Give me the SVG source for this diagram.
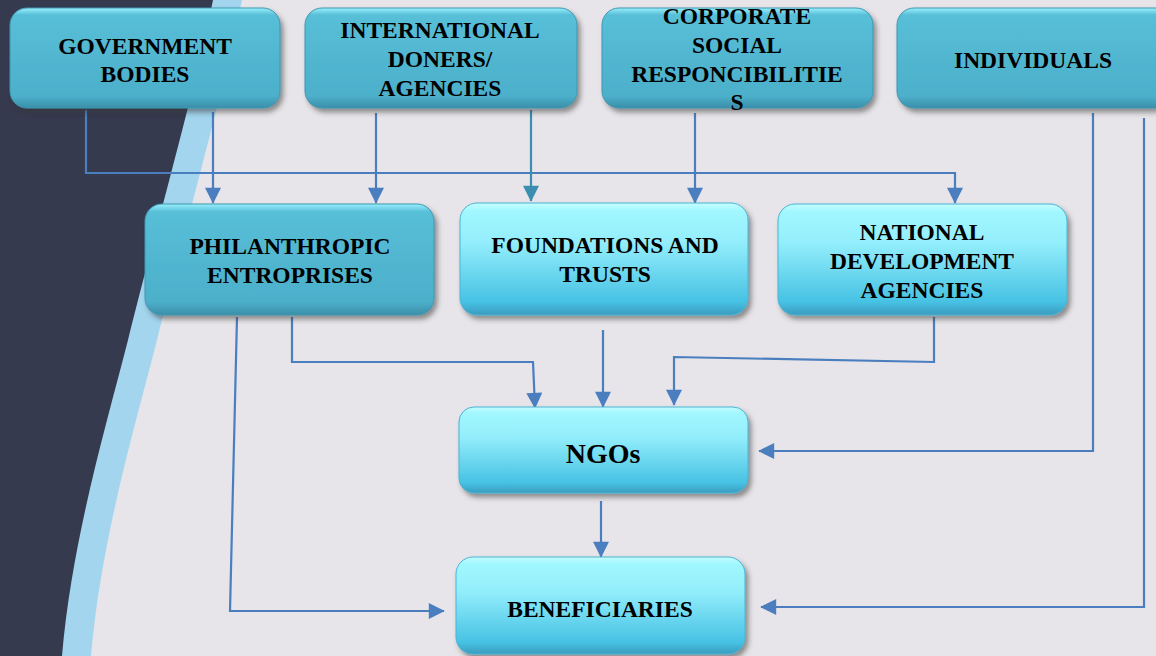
<svg xmlns="http://www.w3.org/2000/svg" width="1156" height="656" viewBox="0 0 1156 656">
<defs>
<linearGradient id="gDark" x1="0" y1="0" x2="0" y2="1">
<stop offset="0" stop-color="#9AEFFC"/>
<stop offset="0.07" stop-color="#58BFD8"/>
<stop offset="0.5" stop-color="#51B6D0"/>
<stop offset="0.88" stop-color="#4DB0CB"/>
<stop offset="1" stop-color="#3A8EA8"/>
</linearGradient>
<linearGradient id="gLight" x1="0" y1="0" x2="0" y2="1">
<stop offset="0" stop-color="#C4FDFF"/>
<stop offset="0.07" stop-color="#A2F7FF"/>
<stop offset="0.35" stop-color="#93EEFB"/>
<stop offset="0.88" stop-color="#47C2E4"/>
<stop offset="1" stop-color="#3B9CBE"/>
</linearGradient>
<filter id="shadow" x="-10%" y="-10%" width="125%" height="135%">
<feDropShadow dx="3" dy="4" stdDeviation="2.5" flood-color="#333" flood-opacity="0.5"/>
</filter>
<marker id="arr" viewBox="0 0 10 10" refX="9.5" refY="5" markerUnits="userSpaceOnUse" markerWidth="17" markerHeight="16" orient="auto">
<path d="M0,0 L10,5 L0,10 z" fill="#4A7EBF"/>
</marker>
<marker id="arrT" viewBox="0 0 10 10" refX="9.5" refY="5" markerUnits="userSpaceOnUse" markerWidth="17" markerHeight="16" orient="auto">
<path d="M0,0 L10,5 L0,10 z" fill="#3B8EB0"/>
</marker>
</defs>
<style>
.dark{fill:url(#gDark);stroke:#3F97B0;stroke-width:1;filter:url(#shadow)}
.light{fill:url(#gLight);stroke:#4AB3D3;stroke-width:1;filter:url(#shadow)}
text{font-family:"Liberation Serif","Times New Roman",serif;font-weight:bold;font-size:23.5px;fill:#000;text-anchor:middle}
.c{fill:none;stroke:#4A7EBF;stroke-width:2.2;marker-end:url(#arr)}
</style>

<g id="background">
<rect x="0" y="0" width="1156" height="656" fill="#E7E5E9"/>
<path d="M0,0 L242,0 C224,90 179,250 157,340 C134,430 101,540 91,656 L0,656 Z" fill="#A3D5EE"/>
<path d="M0,0 L213,0 C195,90 150,250 128,340 C105,430 72,540 62,656 L0,656 Z" fill="#363A4E"/>
</g>

<g id="connectors">
<path class="c" d="M86,110 V173 H955 V203"/>
<path class="c" d="M213,112 V203"/>
<path class="c" d="M376,113 V203"/>
<path d="M531,110 V201" fill="none" stroke="#3B8EB0" stroke-width="2.2" marker-end="url(#arrT)"/>
<path class="c" d="M695,113 V203"/>
<path class="c" d="M237,317 L230,611 H444"/>
<path class="c" d="M292,317 V362 H533 L535,408"/>
<path class="c" d="M603,330 V407"/>
<path class="c" d="M934,317 V362 L674,357 V405"/>
<path class="c" d="M1093,113 V451 H759"/>
<path class="c" d="M1144,118 V607 H761"/>
<path class="c" d="M601,501 V557"/>
</g>

<g id="government-bodies">
<rect class="dark" x="10" y="8" width="270" height="100" rx="17"/>
<text x="145" y="54">GOVERNMENT</text>
<text x="145" y="82">BODIES</text>
</g>

<g id="international-doners">
<rect class="dark" x="305" y="8" width="272" height="100" rx="17"/>
<text x="440" y="38">INTERNATIONAL</text>
<text x="440" y="67">DONERS/</text>
<text x="440" y="96">AGENCIES</text>
</g>

<g id="corporate-social">
<rect class="dark" x="602" y="8" width="271" height="100" rx="17"/>
<text x="737" y="24">CORPORATE</text>
<text x="737" y="53">SOCIAL</text>
<text x="737" y="82">RESPONCIBILITIE</text>
<text x="737" y="110">S</text>
</g>

<g id="individuals">
<rect class="dark" x="897" y="8" width="275" height="100" rx="17"/>
<text x="1033" y="68">INDIVIDUALS</text>
</g>

<g id="philanthropic">
<rect class="dark" x="145" y="204" width="289" height="111" rx="17"/>
<text x="290" y="254">PHILANTHROPIC</text>
<text x="290" y="283">ENTROPRISES</text>
</g>

<g id="foundations">
<rect class="light" x="460" y="203" width="288" height="112" rx="17"/>
<text x="605" y="253">FOUNDATIONS AND</text>
<text x="605" y="282">TRUSTS</text>
</g>

<g id="national-development">
<rect class="light" x="778" y="204" width="289" height="111" rx="17"/>
<text x="922" y="240">NATIONAL</text>
<text x="922" y="269">DEVELOPMENT</text>
<text x="922" y="298">AGENCIES</text>
</g>

<g id="ngos">
<rect class="light" x="459" y="407" width="289" height="86" rx="15"/>
<text x="603" y="463" style="font-size:28px">NGOs</text>
</g>

<g id="beneficiaries">
<rect class="light" x="456" y="557" width="289" height="97" rx="17"/>
<text x="600" y="617">BENEFICIARIES</text>
</g>
</svg>
